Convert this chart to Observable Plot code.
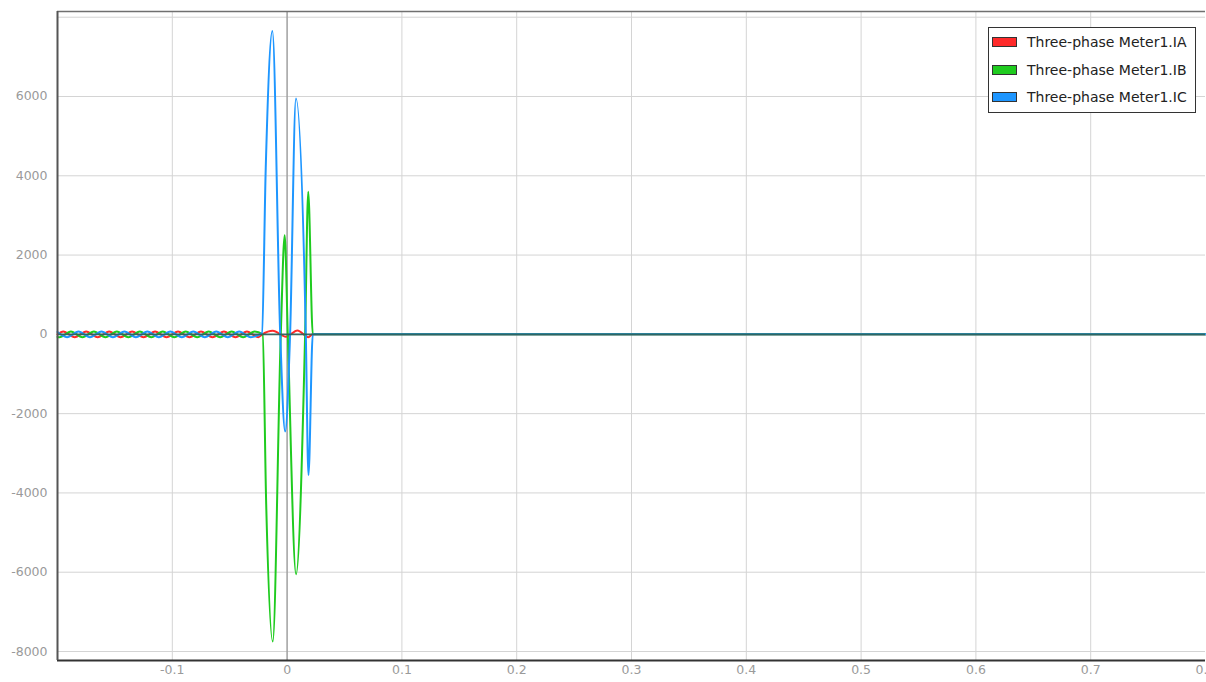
<!DOCTYPE html>
<html>
<head>
<meta charset="utf-8">
<script src="https://cdn.jsdelivr.net/npm/d3@7"></script>
<script src="https://cdn.jsdelivr.net/npm/@observablehq/plot@0.6"></script>
<style>
  html, body { margin: 0; padding: 0; background: #fff; }
  #wrap { position: relative; width: 1206px; height: 682px; overflow: hidden; }
  #legend { position: absolute; left: 988px; top: 27px; width: 208px; height: 86px;
    border: 1px solid #333; background: #fff; box-sizing: border-box;
    font-family: "DejaVu Sans", sans-serif; font-size: 14px; color: #222; }
  .row { position: absolute; left: 3px; height: 16px; display: flex; align-items: center; white-space: nowrap; }
  .sw { width: 25px; height: 10px; border: 1px solid #333; margin-right: 10px; box-sizing: border-box; }
</style>
</head>
<body>
<div id="wrap"><div id="legend"></div></div>
<script>
// ---- data ----
const seriesNames = ["Three-phase Meter1.IA", "Three-phase Meter1.IB", "Three-phase Meter1.IC"];
const seriesColors = ["#ff2a2a", "#1fcb1f", "#1e96ff"];

const tA = [-0.2, -0.195, -0.185, -0.175, -0.165, -0.155, -0.145, -0.135, -0.125, -0.115, -0.105,
            -0.095, -0.085, -0.075, -0.065, -0.055, -0.045, -0.035, -0.025,
            -0.0216, -0.0125, -0.001, 0.009, 0.0185, 0.0222, 0.8];
const vA = [0, 70, -70, 70, -70, 70, -70, 70, -70, 70, -70,
            70, -70, 70, -70, 70, -70, 70, -70,
            0, 90, -60, 100, -70, 0, 0];

const tB = [-0.2, -0.1983, -0.1883, -0.1783, -0.1683, -0.1583, -0.1483, -0.1383, -0.1283, -0.1183,
            -0.1083, -0.0983, -0.0883, -0.0783, -0.0683, -0.0583, -0.0483, -0.0383, -0.0283,
            -0.0213, -0.0182, -0.0125, -0.0055, -0.0021, 0.0006, 0.0078, 0.0157, 0.0184, 0.0224, 0.8];
const vB = [-65, -70, 70, -70, 70, -70, 70, -70, 70, -70,
            70, -70, 70, -70, 70, -70, 70, -70, 70,
            0, -4300, -7750, 0, 2500, 0, -6050, 0, 3600, 0, 0];

const tC = [-0.2, -0.1917, -0.1817, -0.1717, -0.1617, -0.1517, -0.1417, -0.1317, -0.1217, -0.1117,
            -0.1017, -0.0917, -0.0817, -0.0717, -0.0617, -0.0517, -0.0417, -0.0317,
            -0.0219, -0.0186, -0.0128, -0.006, -0.0017, 0.0026, 0.0077, 0.0163, 0.0186, 0.0224, 0.8];
const vC = [60, -70, 70, -70, 70, -70, 70, -70, 70, -70,
            70, -70, 70, -70, 70, -70, 70, -70,
            30, 4200, 7650, 0, -2450, 0, 5950, 0, -3550, 0, 0];

const xTicks = [-0.1, 0, 0.1, 0.2, 0.3, 0.4, 0.5, 0.6, 0.7, 0.8];
const xGrid = [-0.1, 0.1, 0.2, 0.3, 0.4, 0.5, 0.6, 0.7];
const yTicks = [-8000, -6000, -4000, -2000, 0, 2000, 4000, 6000];
const yGrid = [-8000, -6000, -4000, -2000, 2000, 4000, 6000, 8000];
const xDomain = [-0.2, 0.8];
const yDomain = [-8227, 8144];

// ---- build table ----
const times = [tA, tB, tC], vals = [vA, vB, vC];
const rows = [];
seriesNames.forEach((name, i) => {
  times[i].forEach((t, j) => rows.push({series: name, t, v: vals[i][j]}));
});

const chart = Plot.plot({
  width: 1206,
  height: 682,
  marginLeft: 57,
  marginRight: 1,
  marginTop: 11,
  marginBottom: 22,
  style: {fontFamily: "DejaVu Sans, sans-serif", fontSize: "12.5px", background: "#fff", overflow: "hidden"},
  x: {domain: xDomain, label: null},
  y: {domain: yDomain, label: null},
  color: {domain: seriesNames, range: seriesColors},
  marks: [
    Plot.gridX(xGrid, {stroke: "#d4d4d4", strokeOpacity: 1, strokeWidth: 1}),
    Plot.gridY(yGrid, {stroke: "#d4d4d4", strokeOpacity: 1, strokeWidth: 1}),
    Plot.ruleX([0], {stroke: "#a0a0a0", strokeWidth: 1.5}),
    Plot.axisX(xTicks, {tickSize: 0, tickPadding: 5, fill: "#9a9a9a", tickFormat: d => String(+d.toFixed(1)), label: null}),
    Plot.axisY(yTicks, {tickSize: 0, tickPadding: 10, fill: "#9a9a9a", tickFormat: d => String(d), label: null}),
    Plot.line(rows, {x: "t", y: "v", z: "series", stroke: "series", strokeWidth: 2, curve: "monotone-x"}),
    Plot.ruleY([0], {stroke: "#2f625d", strokeWidth: 1.8, strokeOpacity: 0.95}),
    Plot.ruleY([yDomain[1]], {stroke: "#707070", strokeWidth: 1.5}),
    Plot.ruleY([yDomain[0]], {stroke: "#333", strokeWidth: 2}),
    Plot.ruleX([xDomain[0]], {stroke: "#555", strokeWidth: 2})
  ]
});
document.getElementById("wrap").prepend(chart);

// ---- legend ----
const legend = d3.select("#legend");
seriesNames.forEach((name, i) => {
  const r = legend.append("div").attr("class", "row").style("top", (6 + i * 27.5) + "px");
  r.append("div").attr("class", "sw").style("background", seriesColors[i]);
  r.append("span").text(name);
});
</script>
</body>
</html>
